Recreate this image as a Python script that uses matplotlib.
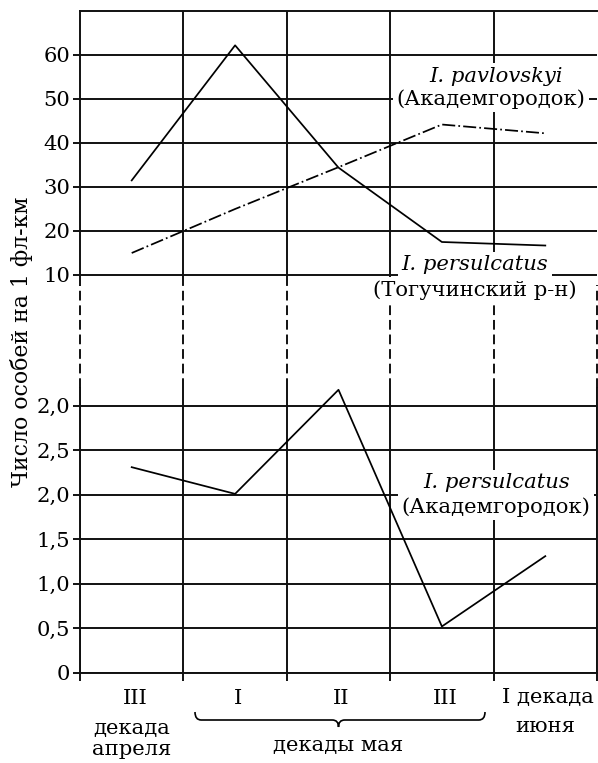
import matplotlib
matplotlib.use("Agg")
import matplotlib.pyplot as plt
from matplotlib.path import Path
from matplotlib.patches import PathPatch
from matplotlib.transforms import blended_transform_factory

plt.rcParams['font.family'] = ['DejaVu Serif']
FS = 15.2

# ---- data ----
decades = ["III", "I", "II", "III", "I декада"]
decade_sub = ["декада\nапреля", "", "", "", "июня"]
x_pos = [0.5, 1.5, 2.5, 3.5, 4.5]

persulcatus_toguchin = [31.5, 62.2, 34.4, 17.5, 16.7]
pavlovskyi_akadem = [15.0, 25.0, 34.5, 44.2, 42.2]
persulcatus_akadem = [2.31, 2.01, 3.18, 0.52, 1.31]

top_ticks = [10, 20, 30, 40, 50, 60]
top_ticklabels = ["10", "20", "30", "40", "50", "60"]
bot_ticks = [0, 0.5, 1.0, 1.5, 2.0, 2.5, 3.0]
bot_ticklabels = ["0", "0,5", "1,0", "1,5", "2,0", "2,5", "2,0"]

ylabel = "Число особей на 1 фл-км"

# ---- layout ----
W_PX, H_PX = 598, 763
fig = plt.figure(figsize=(W_PX / 100, H_PX / 100), dpi=100)
L = 80 / W_PX
R = 597 / W_PX
Wd = R - L

def fy(px):
    return 1 - px / H_PX

ax_top = fig.add_axes([L, fy(285), Wd, (285 - 11) / H_PX])
ax_gap = fig.add_axes([L, fy(388), Wd, (388 - 285) / H_PX])
ax_bot = fig.add_axes([L, fy(672.7), Wd, (672.7 - 388) / H_PX])

LW_GRID = 1.4
LW_DATA = 1.25
K = "#111111"

# top panel
ax_top.set_xlim(0, 5)
ax_top.set_ylim(10 - 10 / 4.4, 70)
ax_top.set_yticks(top_ticks)
ax_top.set_yticklabels(top_ticklabels, fontsize=FS)
ax_top.set_xticks([1, 2, 3, 4])
ax_top.tick_params(axis='x', length=0, labelbottom=False)
ax_top.tick_params(axis='y', length=5, width=LW_GRID, pad=2, color=K)
ax_top.grid(True, color=K, lw=LW_GRID)
for s in ['bottom', 'right']:
    ax_top.spines[s].set_visible(False)
for s in ['top', 'left']:
    ax_top.spines[s].set_linewidth(LW_GRID)
    ax_top.spines[s].set_color(K)
ax_top.plot(x_pos, persulcatus_toguchin, color='black', lw=LW_DATA, zorder=3)
ax_top.plot(x_pos, pavlovskyi_akadem, color='black', lw=LW_DATA, zorder=3,
            linestyle=(0, (7.5, 1.8, 1.0, 1.8)))

# gap panel
ax_gap.set_xlim(0, 5)
ax_gap.set_ylim(0, 1)
ax_gap.axis('off')
for xv in range(6):
    ax_gap.plot([xv, xv], [0, 1], color=K, lw=LW_GRID, linestyle=(0, (5, 2.5)),
                clip_on=False)

# bottom panel
ax_bot.set_xlim(0, 5)
ax_bot.set_ylim(0, 3.2)
ax_bot.set_yticks(bot_ticks)
ax_bot.set_yticklabels(bot_ticklabels, fontsize=FS)
ax_bot.set_xticks([0, 1, 2, 3, 4, 5])
ax_bot.tick_params(axis='x', length=6, width=LW_GRID, labelbottom=False, color=K)
ax_bot.tick_params(axis='y', length=5, width=LW_GRID, pad=2, color=K)
ax_bot.grid(True, color=K, lw=LW_GRID)
ax_bot.spines['top'].set_visible(False)
for s in ['bottom', 'left', 'right']:
    ax_bot.spines[s].set_linewidth(LW_GRID)
    ax_bot.spines[s].set_color(K)
ax_bot.plot(x_pos, persulcatus_akadem, color='black', lw=LW_DATA, zorder=3,
            clip_on=False)

# series labels with white boxes
box = dict(facecolor='white', edgecolor='none', pad=2.5)
tf_top = blended_transform_factory(ax_top.transData, fig.transFigure)
tf_bot = blended_transform_factory(ax_bot.transData, fig.transFigure)

def xd(px):
    return (px - 80) / 103.4

fig.text(xd(496), fy(76), "I. pavlovskyi", style='italic', fontsize=FS,
         ha='center', va='center', transform=tf_top, bbox=box, zorder=5)
fig.text(xd(491), fy(99), "(Академгородок)", fontsize=FS,
         ha='center', va='center', transform=tf_top, bbox=box, zorder=5)
fig.text(xd(475), fy(265), "I. persulcatus", style='italic', fontsize=FS,
         ha='center', va='center', transform=tf_top, bbox=box, zorder=5)
fig.text(xd(475), fy(290), "(Тогучинский р-н)", fontsize=FS,
         ha='center', va='center', transform=tf_top, bbox=box, zorder=5)
fig.text(xd(497), fy(483), "I. persulcatus", style='italic', fontsize=FS,
         ha='center', va='center', transform=tf_bot, bbox=box, zorder=5)
fig.text(xd(496), fy(507), "(Академгородок)", fontsize=FS,
         ha='center', va='center', transform=tf_bot, bbox=box, zorder=5)

# x category labels
for xv, lab in zip(x_pos, decades):
    fig.text(xv + 0.03, fy(698), lab, fontsize=FS, ha='center', va='center',
             transform=tf_bot)
for xv, sub in zip(x_pos, decade_sub):
    if sub:
        fig.text(xv, fy(727) if "\n" not in sub else fy(739), sub, fontsize=FS,
                 ha='center', va='center', transform=tf_bot, linespacing=1.15)

# brace under May decades
Lb, Rb, Cb = xd(195), xd(485), 2.5
yt, ym, yp = fy(712), fy(720), fy(727)
dx = 0.06
verts = [(Lb, yt), (Lb, ym), (Lb + dx, ym), (Cb - dx, ym), (Cb, ym), (Cb, yp),
         (Cb, ym), (Cb + dx, ym), (Rb - dx, ym), (Rb, ym), (Rb, yt)]
codes = [Path.MOVETO, Path.CURVE3, Path.CURVE3, Path.LINETO, Path.CURVE3, Path.CURVE3,
         Path.CURVE3, Path.CURVE3, Path.LINETO, Path.CURVE3, Path.CURVE3]
fig.add_artist(PathPatch(Path(verts, codes), transform=tf_bot, facecolor='none',
                         edgecolor='black', lw=1.2))
fig.text(2.5, fy(746), "декады мая", fontsize=FS, ha='center', va='center',
         transform=tf_bot)

fig.text(22 / W_PX, fy(342), ylabel, fontsize=15.8, rotation=90,
         ha='center', va='center')

fig.savefig("out.png", dpi=100)
